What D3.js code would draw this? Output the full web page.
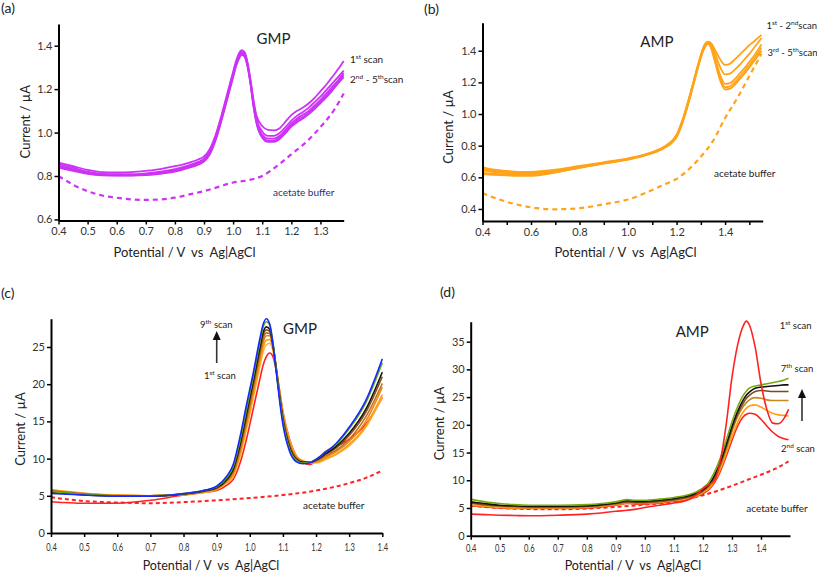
<!DOCTYPE html>
<html><head><meta charset="utf-8">
<script src="https://cdn.jsdelivr.net/npm/d3@7"></script>
<style>
body{margin:0;background:#fff}
svg{display:block}
text{font-family:Lato,"Open Sans",sans-serif}
</style>
</head><body>
<svg id="chart" width="817" height="574"></svg>
<script>
// ---------- Panel (a): GMP, 5 scans ----------
const xA = [0.40,0.45,0.50,0.55,0.60,0.65,0.70,0.75,0.80,0.85,0.88,0.90,0.92,0.94,0.96,0.98,1.00,1.01,1.02,1.03,1.04,1.05,1.06,1.07,1.08,1.10,1.12,1.14,1.16,1.18,1.20,1.22,1.24,1.26,1.28,1.30,1.32,1.34,1.36,1.38];
const gmpA1 = [0.862,0.845,0.828,0.818,0.816,0.818,0.824,0.832,0.845,0.862,0.876,0.89,0.925,0.99,1.08,1.18,1.28,1.33,1.365,1.38,1.37,1.32,1.24,1.15,1.08,1.03,1.012,1.01,1.02,1.05,1.08,1.10,1.115,1.135,1.16,1.19,1.22,1.255,1.29,1.33];
const gmpA2 = [0.855,0.838,0.82,0.81,0.808,0.808,0.812,0.82,0.832,0.85,0.865,0.88,0.915,0.98,1.07,1.17,1.27,1.32,1.355,1.372,1.362,1.315,1.235,1.14,1.065,1.005,0.985,0.985,0.998,1.025,1.055,1.078,1.095,1.115,1.14,1.165,1.195,1.225,1.255,1.285];
const gmpA3 = [0.848,0.832,0.815,0.807,0.805,0.805,0.808,0.815,0.828,0.846,0.86,0.875,0.91,0.975,1.065,1.165,1.265,1.315,1.35,1.368,1.358,1.31,1.23,1.13,1.055,0.99,0.972,0.972,0.985,1.012,1.042,1.065,1.082,1.10,1.125,1.15,1.18,1.21,1.24,1.275];
const gmpA4 = [0.843,0.828,0.812,0.805,0.803,0.803,0.806,0.812,0.824,0.842,0.856,0.87,0.905,0.97,1.06,1.16,1.26,1.31,1.345,1.363,1.353,1.305,1.225,1.125,1.05,0.982,0.963,0.963,0.977,1.004,1.034,1.056,1.072,1.092,1.116,1.142,1.17,1.2,1.232,1.265];
const gmpA5 = [0.838,0.824,0.81,0.803,0.802,0.802,0.804,0.81,0.82,0.838,0.852,0.866,0.9,0.965,1.055,1.155,1.255,1.305,1.34,1.358,1.348,1.30,1.22,1.12,1.045,0.976,0.957,0.957,0.97,0.997,1.027,1.048,1.065,1.085,1.108,1.135,1.162,1.192,1.225,1.255];
const bufAx = [0.40,0.45,0.50,0.55,0.60,0.65,0.70,0.75,0.80,0.85,0.90,0.95,1.00,1.05,1.10,1.15,1.20,1.25,1.30,1.35,1.38];
const bufAy = [0.80,0.76,0.73,0.71,0.70,0.692,0.69,0.692,0.70,0.715,0.73,0.75,0.77,0.78,0.80,0.845,0.90,0.955,1.025,1.11,1.18];
const xTicksA = [0.4,0.5,0.6,0.7,0.8,0.9,1.0,1.1,1.2,1.3];
const yTicksA = [0.6,0.8,1.0,1.2,1.4];

// ---------- Panel (b): AMP, 5 scans ----------
const xB = [0.40,0.45,0.50,0.55,0.60,0.65,0.70,0.80,0.90,1.00,1.10,1.15,1.18,1.20,1.22,1.24,1.26,1.28,1.30,1.31,1.32,1.33,1.34,1.35,1.36,1.38,1.40,1.42,1.44,1.46,1.48,1.50,1.52,1.55];
const ampB1 = [0.665,0.648,0.64,0.635,0.635,0.64,0.648,0.672,0.695,0.72,0.76,0.795,0.83,0.87,0.945,1.04,1.15,1.265,1.375,1.42,1.448,1.457,1.45,1.43,1.40,1.345,1.31,1.318,1.345,1.375,1.405,1.435,1.46,1.50];
const ampB2 = [0.655,0.64,0.632,0.628,0.628,0.633,0.642,0.668,0.692,0.718,0.758,0.792,0.826,0.866,0.94,1.035,1.145,1.26,1.37,1.415,1.445,1.454,1.445,1.415,1.375,1.295,1.25,1.255,1.28,1.31,1.345,1.38,1.42,1.48];
const ampB3 = [0.645,0.632,0.625,0.622,0.622,0.627,0.637,0.665,0.69,0.716,0.756,0.79,0.823,0.862,0.935,1.03,1.14,1.255,1.365,1.41,1.44,1.452,1.435,1.395,1.345,1.245,1.19,1.195,1.22,1.255,1.29,1.33,1.37,1.44];
const ampB4 = [0.63,0.622,0.617,0.615,0.615,0.622,0.633,0.662,0.688,0.714,0.754,0.788,0.82,0.858,0.93,1.025,1.135,1.25,1.36,1.405,1.435,1.448,1.43,1.385,1.33,1.225,1.17,1.175,1.2,1.235,1.27,1.31,1.35,1.42];
const ampB5 = [0.62,0.615,0.612,0.61,0.61,0.617,0.63,0.66,0.686,0.712,0.752,0.786,0.817,0.854,0.925,1.02,1.13,1.245,1.355,1.40,1.43,1.444,1.425,1.378,1.32,1.21,1.155,1.16,1.185,1.22,1.255,1.295,1.335,1.40];
const bufBx = [0.40,0.45,0.50,0.60,0.70,0.80,0.90,1.00,1.10,1.15,1.20,1.25,1.30,1.35,1.40,1.45,1.50,1.55];
const bufBy = [0.50,0.47,0.445,0.41,0.398,0.405,0.43,0.46,0.52,0.555,0.59,0.65,0.73,0.83,0.975,1.10,1.24,1.38];
const xTicksB = [0.4,0.5,0.6,0.7,0.8,0.9,1.0,1.1,1.2,1.3,1.4,1.5];
const xLabelsB = [0.4,0.6,0.8,1.0,1.2,1.4];
const yTicksB = [0.4,0.6,0.8,1.0,1.2,1.4];

// ---------- Panel (c): GMP, 9 scans ----------
const xC = [0.40,0.50,0.60,0.70,0.80,0.87,0.90,0.93,0.95,0.97,0.99,1.01,1.03,1.04,1.05,1.06,1.07,1.08,1.09,1.10,1.12,1.14,1.16,1.18,1.20,1.23,1.26,1.30,1.35,1.40];
const gmpC1 = [4.2,4.0,4.0,4.4,5.1,5.5,5.7,6.4,7.2,9.3,12.6,16.6,20.6,22.5,23.7,24.2,23.7,21.8,19.1,16.3,12.6,10.4,9.5,9.2,9.7,11.0,11.6,12.6,14.6,18.2];
const gmpC2 = [5.8,5.35,5.1,5.0,5.15,5.5,5.85,6.7,7.6,10.2,13.9,18.0,22.3,24.3,25.3,25.5,24.5,22.1,19.1,16.2,12.5,10.4,9.7,9.4,9.4,9.9,10.5,11.7,14.2,18.3];
const gmpC3 = [5.8,5.3,5.05,5.0,5.2,5.55,5.9,6.8,7.8,10.5,14.3,18.5,22.8,24.9,25.9,26.0,24.8,22.2,19.0,16.0,12.3,10.3,9.7,9.5,9.5,10.0,10.6,11.9,14.4,18.6];
const gmpC4 = [5.7,5.3,5.05,5.0,5.2,5.6,5.95,6.9,8.0,10.8,14.7,19.0,23.4,25.5,26.5,26.5,25.0,22.2,18.9,15.8,12.1,10.2,9.6,9.5,9.6,10.2,10.9,12.3,15.0,19.6];
const gmpC5 = [5.7,5.25,5.0,5.0,5.2,5.65,6.0,7.0,8.2,11.1,15.1,19.4,23.9,26.0,26.9,26.8,25.1,22.1,18.7,15.6,11.9,10.1,9.6,9.5,9.7,10.4,11.1,12.6,15.6,20.1];
const gmpC6 = [5.6,5.2,5.0,5.0,5.25,5.7,6.05,7.1,8.4,11.5,15.6,19.9,24.4,26.5,27.3,27.1,25.2,22.0,18.5,15.4,11.7,10.0,9.5,9.5,9.8,10.6,11.4,13.1,16.2,21.0];
const gmpC7 = [5.5,5.1,4.95,4.95,5.25,5.75,6.1,7.2,8.6,11.8,16.0,20.3,24.8,26.9,27.7,27.4,25.3,21.9,18.3,15.2,11.5,9.9,9.5,9.5,9.8,10.7,11.6,13.4,16.6,21.6];
const gmpC8 = [5.6,5.2,5.0,5.0,5.3,5.8,6.2,7.4,8.9,12.3,16.6,20.9,25.5,27.6,28.4,28.0,25.6,22.0,18.2,15.0,11.3,9.8,9.4,9.5,9.9,10.9,11.9,14.0,17.5,22.9];
const gmpC9 = [5.3,5.1,4.95,4.95,5.3,5.8,6.3,7.6,9.2,12.8,17.2,21.4,26.0,28.0,28.8,28.1,25.4,21.6,17.8,14.6,11.0,9.6,9.3,9.4,9.9,10.9,12.0,14.2,17.8,23.4];
const bufCx = [0.40,0.50,0.60,0.70,0.80,0.90,1.00,1.10,1.20,1.30,1.35,1.40];
const bufCy = [4.8,4.3,4.1,4.0,4.15,4.4,4.7,5.1,5.7,6.7,7.4,8.4];
const xTicksC = [0.4,0.5,0.6,0.7,0.8,0.9,1.0,1.1,1.2,1.3,1.4];
const yTicksC = [0,5,10,15,20,25];

// ---------- Panel (d): AMP, 7 scans ----------
const xD = [0.40,0.45,0.50,0.55,0.60,0.70,0.80,0.85,0.90,0.94,0.97,1.00,1.05,1.10,1.15,1.18,1.20,1.22,1.24,1.26,1.28,1.30,1.32,1.34,1.35,1.36,1.38,1.40,1.42,1.44,1.46,1.48,1.495];
const ampD1 = [3.9,3.8,3.7,3.65,3.6,3.7,3.9,4.1,4.4,4.6,4.8,5.1,5.5,5.9,6.5,7.5,8.5,9.2,10.0,13.5,20.0,28.5,34.5,38.0,38.7,38.0,34.0,27.5,22.8,20.3,20.2,21.2,22.8];
const ampD2 = [5.4,5.2,5.0,4.9,4.9,4.9,5.0,5.2,5.5,5.8,5.7,5.7,5.9,6.2,6.6,7.1,7.6,8.3,9.6,11.6,14.3,17.2,19.8,21.5,21.9,22.1,21.9,21.0,19.8,18.7,17.9,17.5,17.3];
const ampD3 = [5.5,5.3,5.1,5.0,5.0,5.0,5.1,5.3,5.6,5.9,5.8,5.8,6.0,6.3,6.7,7.2,7.8,8.5,9.9,12.0,14.8,17.8,20.5,22.4,23.0,23.4,23.6,23.2,22.6,22.1,21.8,21.7,21.6];
const ampD4 = [5.8,5.5,5.3,5.2,5.1,5.1,5.2,5.4,5.7,6.0,5.9,5.9,6.1,6.4,6.9,7.4,8.0,8.8,10.3,12.6,15.5,18.8,21.5,23.4,24.0,24.5,24.9,24.8,24.5,24.4,24.4,24.4,24.4];
const ampD5 = [5.9,5.6,5.4,5.3,5.2,5.2,5.3,5.5,5.8,6.1,6.0,6.0,6.2,6.5,7.0,7.5,8.1,9.0,10.6,13.0,16.0,19.3,22.0,24.0,24.8,25.3,26.0,26.2,26.1,26.0,26.0,26.0,26.0];
const ampD6 = [6.1,5.8,5.5,5.4,5.3,5.3,5.4,5.6,5.9,6.3,6.2,6.2,6.4,6.7,7.2,7.7,8.3,9.2,10.9,13.3,16.4,19.7,22.5,24.6,25.4,25.9,26.6,26.8,26.9,27.0,27.1,27.2,27.2];
const ampD7 = [6.6,6.1,5.8,5.6,5.5,5.5,5.6,5.8,6.1,6.5,6.4,6.4,6.6,6.9,7.4,8.0,8.6,9.6,11.5,14.0,17.2,20.5,23.3,25.4,26.1,26.6,27.0,27.2,27.4,27.6,27.8,28.1,28.4];
const bufDx = [0.40,0.50,0.60,0.70,0.80,0.90,1.00,1.10,1.20,1.30,1.35,1.40,1.45,1.495];
const bufDy = [5.4,5.0,4.8,4.75,4.9,5.2,5.6,6.1,7.3,9.0,10.0,11.0,12.1,13.4];
const xTicksD = [0.4,0.5,0.6,0.7,0.8,0.9,1.0,1.1,1.2,1.3,1.4];
const yTicksD = [0,5,10,15,20,25,30,35];

// ---------- drawing ----------
const svg = d3.select('#chart');
const fmt1 = d3.format('.1f');

function zip(xs, ys){ return xs.map((x,i)=>[x, ys[i]]); }

function drawPanel(o){
  const g = svg.append('g');
  const x = d3.scaleLinear().domain(o.xd).range(o.xr);
  const y = d3.scaleLinear().domain(o.yd).range(o.yr);
  const line = d3.line().x(d=>x(d[0])).y(d=>y(d[1])).curve(d3.curveMonotoneX);

  o.series.forEach(s=>{
    g.append('path').attr('d', line(zip(s.x, s.y)))
      .attr('fill','none').attr('stroke', s.color)
      .attr('stroke-width', s.w).attr('stroke-linejoin','round')
      .attr('stroke-dasharray', s.dash || null);
  });

  const xa = g.append('g').attr('transform', `translate(0,${o.yr[0]})`)
    .call(d3.axisBottom(x).tickValues(o.xt).tickSize(4).tickSizeOuter(0)
      .tickFormat(d => (!o.xl || o.xl.some(v=>Math.abs(v-d)<1e-9)) ? fmt1(d) : ''));
  const ya = g.append('g').attr('transform', `translate(${o.xr[0]},0)`)
    .call(d3.axisLeft(y).tickValues(o.yt).tickSize(4).tickSizeOuter(0)
      .tickFormat(o.yf));
  [xa, ya].forEach(a=>{
    a.select('.domain').attr('stroke','#000').attr('stroke-width',2);
    a.selectAll('.tick line').attr('stroke','#000').attr('stroke-width',1.5);
    a.selectAll('.tick text').attr('fill','#333').style('font-size','11px')
      .style('font-family','Lato,"Open Sans",sans-serif');
  });
  xa.selectAll('.tick text').attr('dy', null).attr('y', o.xly);
  if (o.condensed) xa.selectAll('.tick text').style('font-size','10.5px').attr('transform','scale(0.72,1)');
  ya.selectAll('.tick text').attr('x', -6);

  // axis titles
  g.append('text').attr('x', o.xtitle[0]).attr('y', o.xtitle[1]).attr('text-anchor','middle')
    .style('font-size', (o.tsize||13)+'px').attr('fill','#222')
    .style('white-space','pre').text('Potential / V  vs  Ag|AgCl');
  g.append('text').attr('transform', `translate(${o.ytitle[0]},${o.ytitle[1]}) rotate(-90)`)
    .attr('text-anchor','middle').style('font-size','13px').attr('fill','#222')
    .text('Current / µA');
  return {g, x, y};
}

function label(g, x, y, html, size, fill){
  return g.append('text').attr('x', x).attr('y', y).style('font-size', size+'px')
    .attr('fill', fill || '#222').html(html);
}
function sup(t){ return `<tspan dy="-4" font-size="6.5">${t}</tspan><tspan dy="4">`; }
function arrow(g, x, y0, y1){
  g.append('line').attr('x1',x).attr('x2',x).attr('y1',y0).attr('y2',y1+6)
    .attr('stroke','#333').attr('stroke-width',1.6);
  g.append('path').attr('d',`M${x},${y1} L${x-4},${y1+9} L${x+4},${y1+9} Z`).attr('fill','#111');
}

const MAG = '#cc33f5', ORG = '#ffa31a';

// Panel (a)
const pa = drawPanel({
  xd:[0.4,1.38], xr:[58.5,343.7], yd:[0.595,1.5], yr:[220.5,24],
  xt:xTicksA, yt:yTicksA, yf:fmt1, xly:14,
  xtitle:[184.5,257], ytitle:[30,121.7],
  series:[
    {x:bufAx, y:bufAy, color:MAG, w:2.2, dash:'5,4'},
    {x:xA, y:gmpA5, color:MAG, w:1.8},
    {x:xA, y:gmpA4, color:MAG, w:1.8},
    {x:xA, y:gmpA3, color:MAG, w:1.8},
    {x:xA, y:gmpA2, color:MAG, w:1.8},
    {x:xA, y:gmpA1, color:MAG, w:1.8}
  ]
});
label(pa.g, 1, 13, '(a)', 14);
label(pa.g, 256.5, 44, 'GMP', 15);
label(pa.g, 350, 63, '1'+sup('st')+' scan</tspan>', 10);
label(pa.g, 350, 82.5, '2'+sup('nd')+' -  5</tspan>'+sup('th')+'scan</tspan>', 10);
label(pa.g, 273, 195.5, 'acetate buffer', 10, '#2e2e6e');

// Panel (b)
const pb = drawPanel({
  xd:[0.4,1.555], xr:[482.5,762.7], yd:[0.324,1.577], yr:[221,22.7],
  xt:xTicksB, xl:xLabelsB, yt:yTicksB, yf:fmt1, xly:15,
  xtitle:[625.5,256.5], ytitle:[453,127],
  series:[
    {x:bufBx, y:bufBy, color:ORG, w:2.2, dash:'5,4'},
    {x:xB, y:ampB5, color:ORG, w:1.8},
    {x:xB, y:ampB4, color:ORG, w:1.8},
    {x:xB, y:ampB3, color:ORG, w:1.8},
    {x:xB, y:ampB2, color:ORG, w:1.8},
    {x:xB, y:ampB1, color:ORG, w:1.8}
  ]
});
label(pb.g, 424, 14, '(b)', 14);
label(pb.g, 640.3, 46.7, 'AMP', 15);
label(pb.g, 766.5, 29, '1'+sup('st')+' - 2</tspan>'+sup('nd')+'scan</tspan>', 9.5);
label(pb.g, 767.5, 56, '3'+sup('rd')+' - 5</tspan>'+sup('th')+'scan</tspan>', 9.5);
label(pb.g, 714, 176.5, 'acetate buffer', 10);

// Panel (c)
const cCols = ['#ff2222','#ffb43c','#ff9c10','#e88a10','#c07020','#8a5018','#1a1410','#6aaa10','#1428ff'];
const cData = [gmpC1,gmpC2,gmpC3,gmpC4,gmpC5,gmpC6,gmpC7,gmpC8,gmpC9];
const pc = drawPanel({
  xd:[0.4,1.4], xr:[51,382.3], yd:[0,28.8], yr:[533,318.7],
  xt:xTicksC, yt:yTicksC, yf:d3.format('d'), xly:18.5, condensed:true, tsize:12.5,
  xtitle:[211,569.5], ytitle:[25,429],
  series:[{x:bufCx, y:bufCy, color:'#ff2222', w:2, dash:'4,3'}]
    .concat(cData.map((d,i)=>({x:xC, y:d, color:cCols[i], w:1.6})))
});
label(pc.g, 1, 298, '(c)', 14);
label(pc.g, 283, 334, 'GMP', 15);
label(pc.g, 200, 327.7, '9'+sup('th')+' scan</tspan>', 9.5);
label(pc.g, 204, 379, '1'+sup('st')+' scan</tspan>', 9.5);
arrow(pc.g, 216.7, 363, 331);
label(pc.g, 303, 509, 'acetate buffer', 10);

// Panel (d)
const dSeries = [
  {y:ampD2, c:'#ff2222'}, {y:ampD3, c:'#ffa010'}, {y:ampD4, c:'#c8881e'},
  {y:ampD5, c:'#7a4a18'}, {y:ampD6, c:'#111'}, {y:ampD7, c:'#78aa10'}, {y:ampD1, c:'#ff2222'}
];
const pd = drawPanel({
  xd:[0.4,1.5], xr:[470.7,790], yd:[0,38.6], yr:[535.7,321.7],
  xt:xTicksD, yt:yTicksD, yf:d3.format('d'), xly:16, condensed:true, tsize:12.5,
  xtitle:[633,569.5], ytitle:[444,423.5],
  series:[{x:bufDx, y:bufDy, color:'#ff2222', w:2, dash:'4,3'}]
    .concat(dSeries.map(s=>({x:xD, y:s.y, color:s.c, w:1.6})))
});
label(pd.g, 440, 297, '(d)', 14);
label(pd.g, 675.7, 336.7, 'AMP', 15);
label(pd.g, 779.7, 329, '1'+sup('st')+' scan</tspan>', 9.5);
label(pd.g, 780.7, 372, '7'+sup('th')+' scan</tspan>', 9.5);
arrow(pd.g, 802, 421, 389);
label(pd.g, 781, 452, '2'+sup('nd')+' scan</tspan>', 9.5);
label(pd.g, 746.3, 511.7, 'acetate buffer', 10);
</script>
</body></html>
